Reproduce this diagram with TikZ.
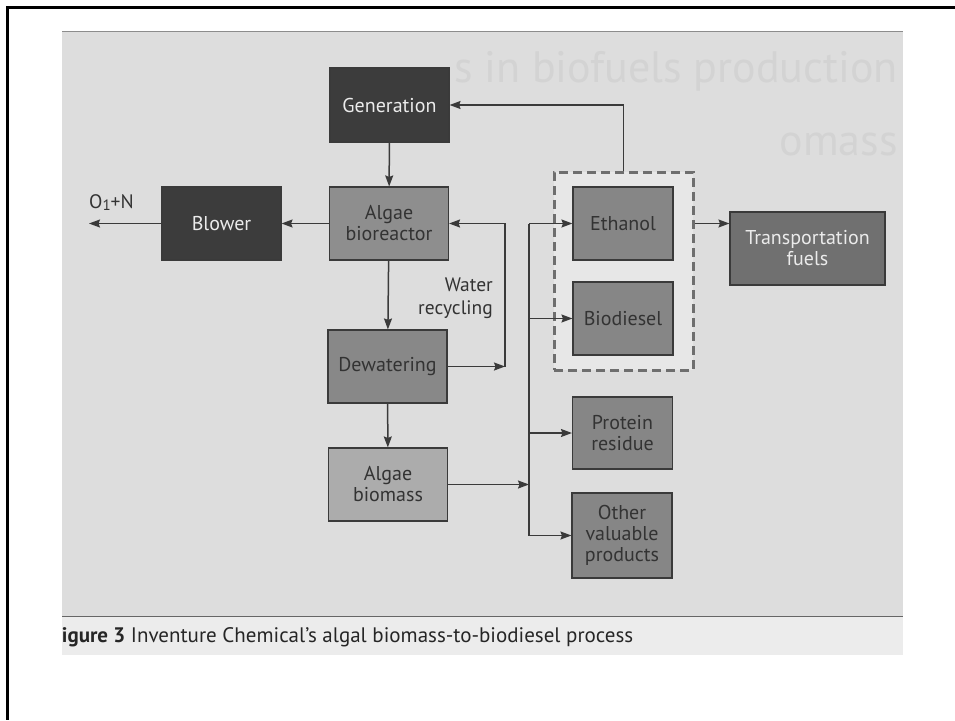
\documentclass[tikz,border=0pt]{standalone}
\usepackage{fontspec}
\setmainfont{PT Sans}
\usepackage{tikz}
\usetikzlibrary{arrows.meta,positioning,calc}
\definecolor{scangray}{RGB}{221,221,221}
\definecolor{capgray}{RGB}{236,236,236}
\definecolor{ghostgray}{RGB}{211,211,211}
\definecolor{darkbox}{RGB}{60,60,60}
\definecolor{reactgray}{RGB}{142,142,142}
\definecolor{prodgray}{RGB}{134,134,134}
\definecolor{massgray}{RGB}{172,172,172}
\definecolor{fuelgray}{RGB}{112,112,112}
\definecolor{linegray}{RGB}{58,58,58}
\definecolor{dashgray}{RGB}{110,110,110}
\tikzset{
  blk/.style={draw=linegray, line width=1.1pt, align=center, inner sep=2pt,
              font=\fontsize{20}{21}\selectfont},
  darkblk/.style={blk, fill=darkbox, text=white!92!black},
  greyblk/.style={blk, fill=#1, text=black!80},
  lbl/.style={align=right, inner sep=0pt, text=black!80, font=\fontsize{19.5}{23}\selectfont},
  flow/.style={-{Stealth[length=11pt,width=8pt,inset=1.5pt]}, line width=1.5pt, draw=linegray},
  wire/.style={line width=1.5pt, draw=linegray},
}
\begin{document}
\begin{tikzpicture}[x=1pt, y=-1pt,
        procbox/.style={greyblk=#1, minimum width=119pt, minimum height=73pt},
        prodblk/.style={greyblk=prodgray, minimum width=100pt, minimum height=73pt},
        prodframe/.style={draw=dashgray, fill=white!30!scangray, line width=3pt,
                          dash pattern=on 9pt off 5pt},
        ghost/.style={text=ghostgray, inner sep=0pt, font=\fontsize{44}{48}\selectfont}]
  \useasboundingbox (0,0) rectangle (955,720);
  % slide frame and scanned page
  \draw[line width=2.5pt] (955,7.5) -- (7.5,7.5) -- (7.5,720);
  \fill[scangray] (62,31) rectangle (903,616);
  \fill[capgray] (62,616) rectangle (903,655);
  \draw[black!45, line width=0.8pt] (62,31) -- (903,31);
  \draw[black!60, line width=1pt] (62,616) -- (903,616);
  \node[ghost, anchor=base east] (ghost1) at (898,82) {s in biofuels production};
  \node[ghost, anchor=base east] (ghost2) at (898,155) {omass};
  % process chain
  \node[darkblk, minimum width=119pt, minimum height=74pt] (gen) at (389.5,105) {Generation};
  \node[procbox=reactgray] (bior) at (389,223.5) {Algae\\bioreactor};
  \node[darkblk, minimum width=119pt, minimum height=73pt] (blow) at (221.5,223.5) {Blower};
  \node[procbox=reactgray!96!black] (dew) at (387.5,366.5) {Dewatering};
  \node[procbox=massgray] (biom) at (388,484.5) {Algae\\biomass};
  % products
  \node[prodframe, minimum width=139pt, minimum height=198pt] (prods) at (623.5,271) {};
  \node[prodblk] (eth) at (623,223.5) {Ethanol};
  \node[prodblk] (biod) at (623,318.5) {Biodiesel};
  \node[prodblk, minimum height=72pt] (prot) at (622.5,433) {Protein\\residue};
  \node[prodblk, minimum height=85pt] (other) at (622,535.5) {Other\\valuable\\products};
  \node[greyblk=fuelgray, text=white!92!black, minimum width=155pt, minimum height=73pt]
    (fuel) at (807.5,248.5) {Transportation\\fuels};
  % labels
  \coordinate (gasout) at (89,223.5);
  \node[lbl, align=left, anchor=base west] (gaslbl) at (89,208)
    {O\raisebox{-0.3ex}{\fontsize{15}{15}\selectfont 1}+N};
  \node[lbl, anchor=north east] (wrlbl) at (493,277.5) {Water\\recycling};
  % connectors
  \draw[flow] (gen) -- (bior);
  \draw[flow] (bior) -- (blow);
  \draw[flow] (blow) -- (gasout);
  \draw[flow] (bior) -- (dew);
  \draw[flow] (dew) -- (biom);
  \coordinate (wr) at (505,366.5);
  \draw[flow] (dew.east) -- (wr);
  \draw[flow] (wr) |- (bior.east);
  \coordinate (bustop) at (529,223.5);
  \coordinate (busbot) at (529,536);
  \draw[wire] (bustop) -- (busbot);
  \draw[flow] (biom.east) -- (biom -| bustop);
  \foreach \p in {eth,biod,prot,other}
    \draw[flow] (\p -| bustop) -- (\p.west);
  \draw[flow] (prods.north) |- (gen.east);
  \draw[flow] (prods.east |- eth) -- (eth -| fuel.west);
  % caption
  \begin{scope}
    \clip (62,616) rectangle (903,655);
    \node[inner sep=0pt, anchor=base west, text=black!85, font=\fontsize{21}{24}\selectfont]
      (cap) at (51,642) {\textbf{Figure 3} Inventure Chemical’s algal biomass-to-biodiesel process};
  \end{scope}
\end{tikzpicture}
\end{document}
